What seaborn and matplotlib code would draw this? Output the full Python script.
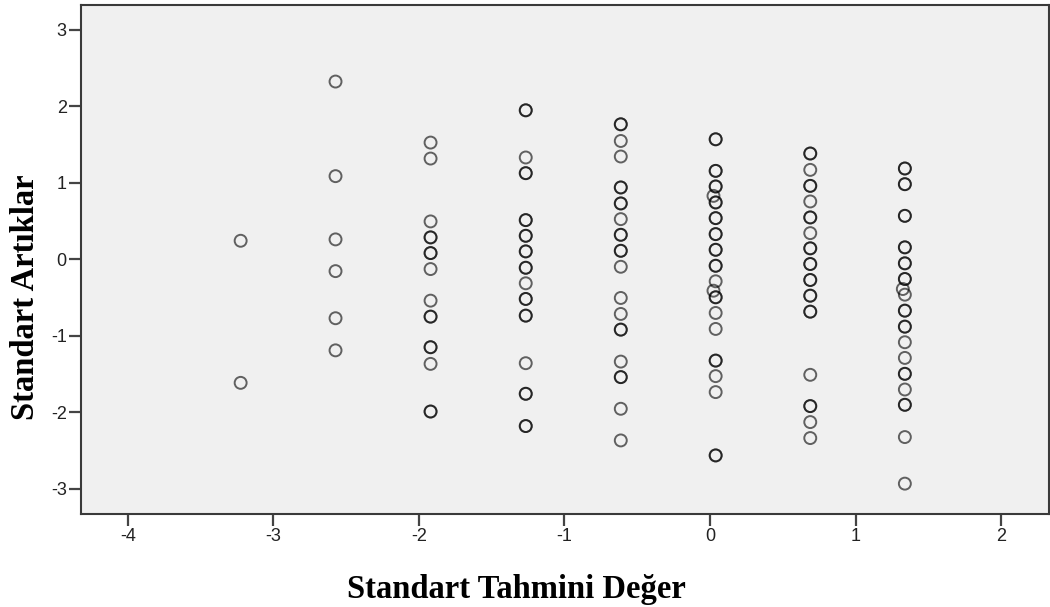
import matplotlib
matplotlib.use("Agg")
import matplotlib.pyplot as plt
import numpy as np
import pandas as pd
import seaborn as sns

# ---- data (repeated values = overlapping cases) ----
pred_levels = [-3.225, -2.573, -1.920, -1.266, -0.613, 0.039, 0.689, 1.339]

resid_col1 = [0.243, -1.615]
resid_col2 = [2.325, 1.088, 0.261, -0.154, -0.770, -1.190]
resid_col3 = [1.527, 1.318, 0.496, 0.287, 0.287, 0.082, 0.082, -0.127, -0.540,
              -0.749, -0.749, -1.149, -1.149, -1.367, -1.990, -1.990]
resid_col4 = [1.949, 1.949, 1.332, 1.127, 1.127, 0.513, 0.513, 0.308, 0.308,
              0.104, 0.104, -0.110, -0.110, -0.313, -0.518, -0.518, -0.736, -0.736,
              -1.358, -1.758, -1.758, -2.180, -2.180]
resid_col5 = [1.766, 1.766, 1.548, 1.345, 0.940, 0.940, 0.731, 0.731, 0.526,
              0.321, 0.321, 0.112, 0.112, -0.097, -0.505, -0.714, -0.919, -0.919,
              -1.337, -1.540, -1.540, -1.954, -2.368]
resid_col6 = [1.570, 1.570, 1.157, 1.157, 0.953, 0.953, 0.744, 0.744, 0.539, 0.539,
              0.330, 0.330, 0.125, 0.125, -0.084, -0.084, -0.287, -0.496, -0.496,
              -0.701, -0.910, -1.324, -1.324, -1.527, -1.736, -2.564, -2.564]
resid_col7 = [1.384, 1.384, 1.170, 0.961, 0.961, 0.757, 0.548, 0.548, 0.343,
              0.144, 0.144, -0.061, -0.061, -0.270, -0.270, -0.475, -0.475,
              -0.684, -0.684, -1.510, -1.919, -1.919, -2.128, -2.337]
resid_col8 = [1.188, 1.188, 0.983, 0.983, 0.569, 0.569, 0.157, 0.157, -0.052, -0.052,
              -0.257, -0.257, -0.462, -0.671, -0.671, -0.880, -0.880, -1.084, -1.289,
              -1.497, -1.497, -1.702, -1.902, -1.902, -2.324, -2.933]

# a few cases sitting slightly left of their column
pred_offset = [0.024, 0.024, 1.325]
resid_offset = [0.830, -0.410, -0.388]

x_ticks = [-4, -3, -2, -1, 0, 1, 2]
y_ticks = [-3, -2, -1, 0, 1, 2, 3]
x_label = "Standart Tahmini Değer"
y_label = "Standart Artıklar"

resid_columns = [resid_col1, resid_col2, resid_col3, resid_col4,
                 resid_col5, resid_col6, resid_col7, resid_col8]

rows = []
for xv, ys in zip(pred_levels, resid_columns):
    for yv in ys:
        rows.append((xv, yv))
for xv, yv in zip(pred_offset, resid_offset):
    rows.append((xv, yv))
df = pd.DataFrame(rows, columns=["pred", "resid"])

# ---- styling ----
sns.set_theme(style="ticks")
plt.rcParams["font.family"] = ["Liberation Sans", "DejaVu Sans"]
plt.rcParams["axes.unicode_minus"] = False

W, H = 1050, 607
fig = plt.figure(figsize=(W / 100, H / 100), dpi=100)
left, right, top, bottom = 80.7, 1048.5, 4.7, 514.0
ax = fig.add_axes([left / W, 1 - bottom / H, (right - left) / W, (bottom - top) / H])
ax.set_facecolor("#F0F0F0")

sns.scatterplot(data=df, x="pred", y="resid", ax=ax, marker="o", s=74,
                facecolor="none", edgecolor="black", linewidth=1.4,
                alpha=0.6, legend=False, zorder=3)

ax.set_xlim(-4.324, 2.326)
ax.set_ylim(-3.33, 3.33)
ax.set_xticks(x_ticks)
ax.set_yticks(y_ticks)
ax.set_xticklabels([str(t) for t in x_ticks])
ax.set_yticklabels([str(t) for t in y_ticks])
ax.set_xlabel("")
ax.set_ylabel("")

for sp in ax.spines.values():
    sp.set_visible(True)
    sp.set_linewidth(1.5)
    sp.set_color("#3a3a3a")

ax.tick_params(axis="both", direction="out", length=8.5, width=1.6,
               color="#444444", labelsize=13, labelcolor="#222222", pad=1.5)

fig.text(516 / W, 1 - 598.3 / H, x_label, ha="center", va="baseline",
         fontsize=23.5, fontweight="bold",
         family=["Liberation Serif", "DejaVu Serif"], color="black")
fig.text(25.5 / W, 1 - 297 / H, y_label, ha="center", va="center", rotation=90,
         fontsize=23.5, fontweight="bold",
         family=["Liberation Serif", "DejaVu Serif"], color="black")

fig.savefig("out.png", dpi=100)
